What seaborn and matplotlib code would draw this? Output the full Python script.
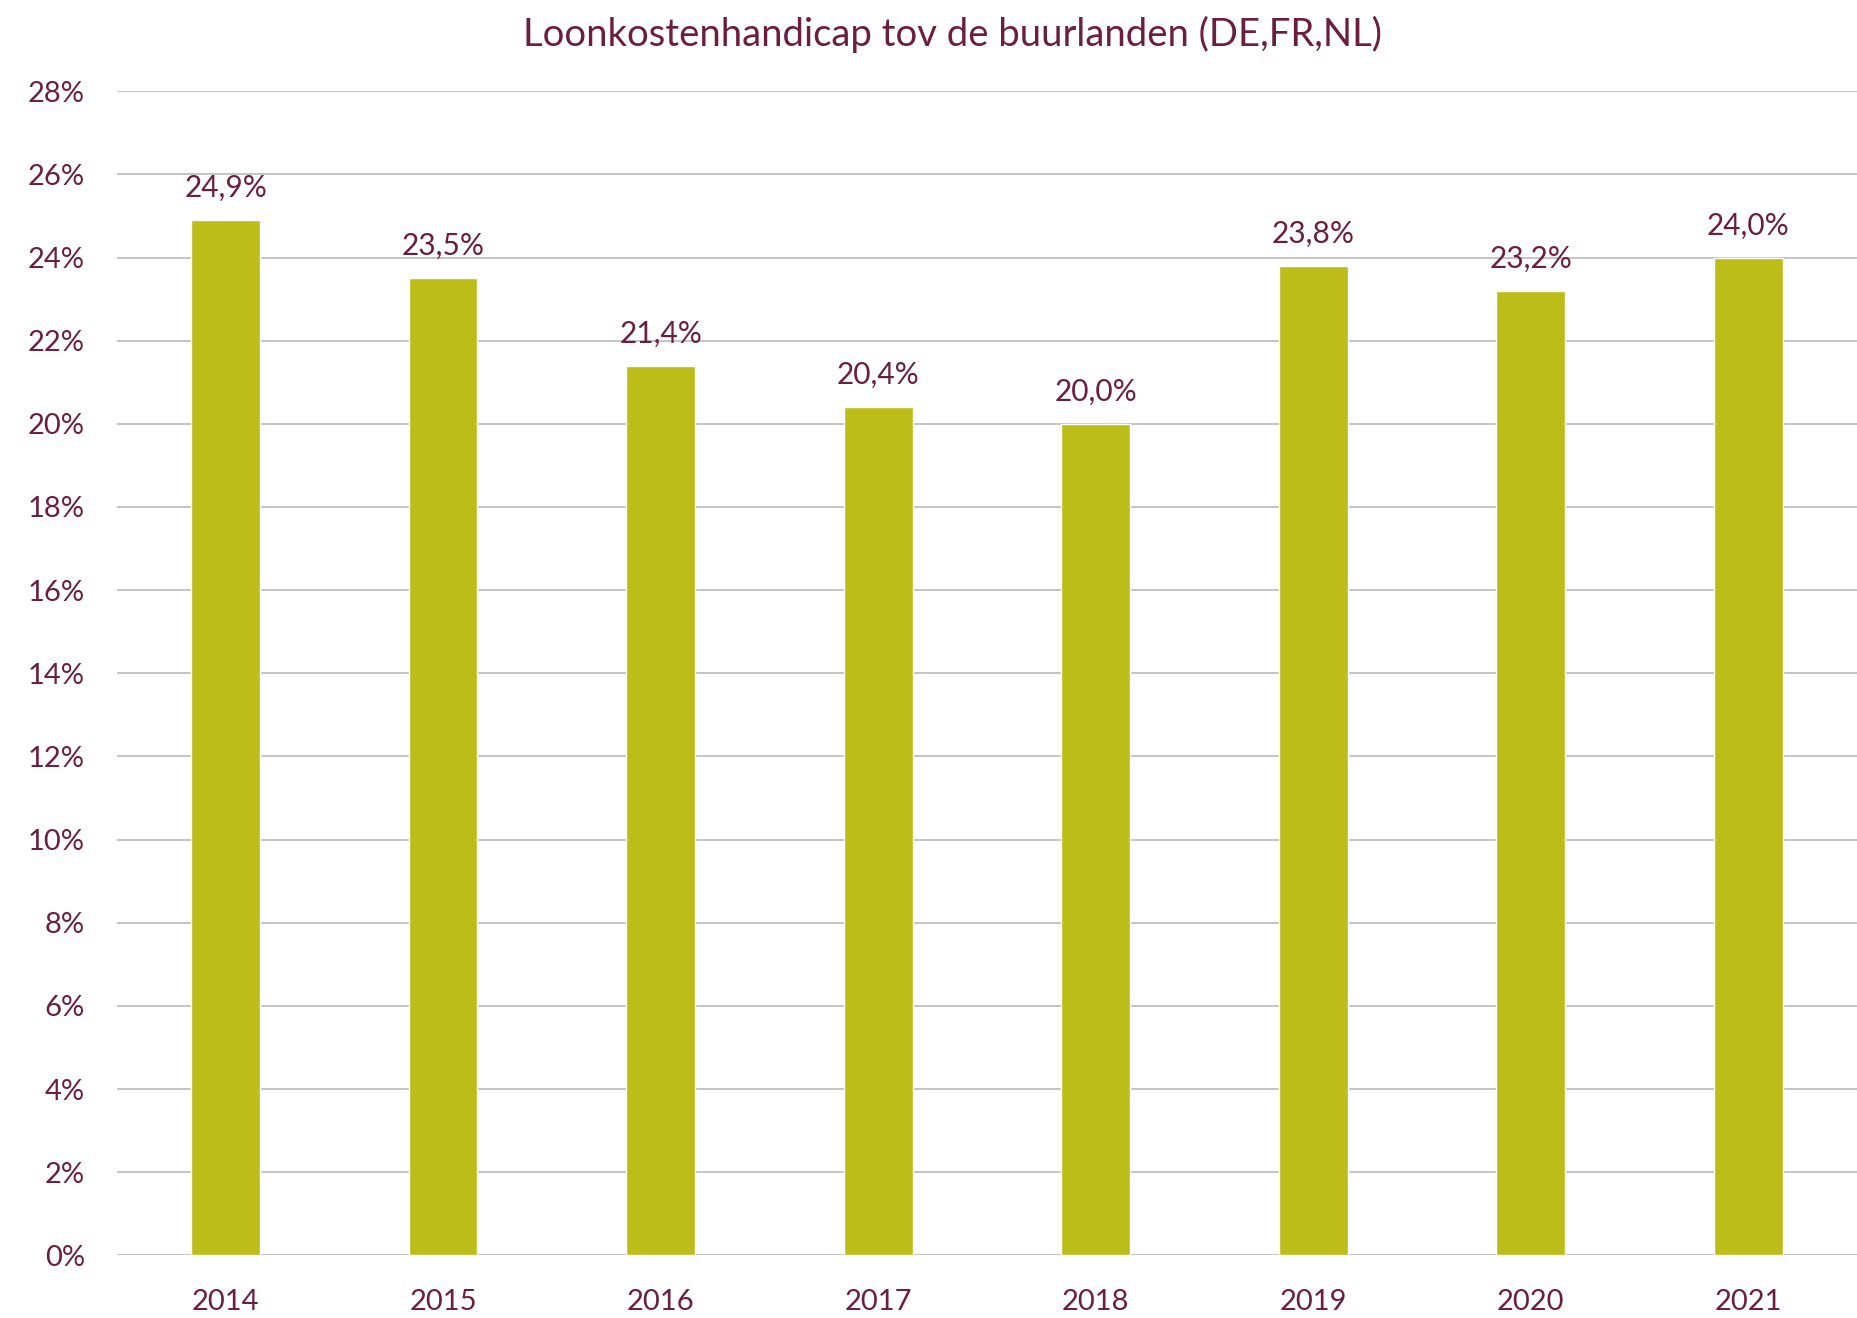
import matplotlib
matplotlib.use("Agg")
import matplotlib.pyplot as plt
import seaborn as sns
import pandas as pd
from matplotlib.ticker import MultipleLocator, FuncFormatter

# data
years = ["2014", "2015", "2016", "2017", "2018", "2019", "2020", "2021"]
handicap = [24.9, 23.5, 21.4, 20.4, 20.0, 23.8, 23.2, 24.0]
labels = ["24,9%", "23,5%", "21,4%", "20,4%", "20,0%", "23,8%", "23,2%", "24,0%"]

BAR = "#BDBD1A"
TXT = "#6A1F40"
GRID = "#BFBFBF"

sns.set_theme(style="white")
plt.rcParams["font.family"] = ["Lato", "DejaVu Sans"]

df = pd.DataFrame({"jaar": years, "handicap": handicap})

fig = plt.figure(figsize=(18.57, 13.18), dpi=100)
ax = fig.add_axes([0.063, 0.0475, 0.937, 0.8833])

sns.barplot(data=df, x="jaar", y="handicap", color=BAR, width=0.315,
            saturation=1, ax=ax)

ax.set_ylim(0, 28)
ax.yaxis.set_major_locator(MultipleLocator(2))
ax.yaxis.set_major_formatter(FuncFormatter(lambda v, p: f"{v:.0f}%"))
ax.grid(axis="y", color=GRID, lw=1.3)
ax.set_axisbelow(True)
sns.despine(ax=ax, left=True, bottom=True)
ax.set_xlim(-0.5, len(years) - 0.5)

ax.tick_params(axis="y", length=0, pad=23, labelsize=21, labelcolor=TXT)
ax.tick_params(axis="x", length=0, pad=24, labelsize=21, labelcolor=TXT)
ax.set_xlabel("")
ax.set_ylabel("")

for i, (v, lab) in enumerate(zip(handicap, labels)):
    ax.annotate(lab, (i, v), xytext=(0, 13), textcoords="offset points",
                ha="center", va="bottom", fontsize=21.5, color=TXT)

fig.suptitle("Loonkostenhandicap tov de buurlanden (DE,FR,NL)", x=0.513,
             y=0.988, fontsize=27.5, color=TXT)

fig.savefig("out.png", dpi=100)
